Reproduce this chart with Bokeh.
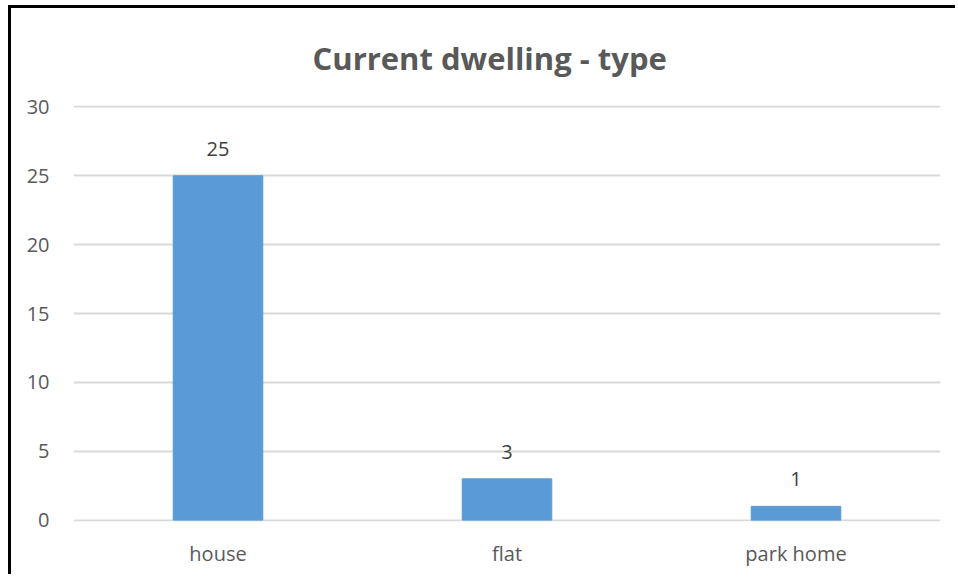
from bokeh.plotting import figure
from bokeh.models import ColumnDataSource, FixedTicker, LabelSet, Range1d
from bokeh.core.properties import value
from bokeh.embed import file_html
from bokeh.resources import INLINE

categories = ["house", "flat", "park home"]
counts = [25, 3, 1]
y_ticks = [0, 5, 10, 15, 20, 25, 30]

src = ColumnDataSource(dict(cat=categories, val=counts, lab=[str(v) for v in counts]))

# canvas starts at (11, 8) inside the page because of CSS margin + border
p = figure(x_range=categories, y_range=Range1d(-0.1, 30.1), width=947, height=569,
           output_backend="svg", toolbar_location=None,
           title="Current dwelling - type",
           min_border_left=62, min_border_right=18, min_border_top=96, min_border_bottom=56)
p.styles = {"margin-left": "8px", "margin-top": "5px",
            "border-left": "3px solid black", "border-top": "3px solid black"}
p.title.align = "left"
p.title.text_font = "Open Sans"
p.title.text_font_style = "bold"
p.title.text_font_size = "31px"
p.title.text_color = "#595959"
p.title.standoff = 53
p.title.offset = 239

p.vbar(x="cat", top="val", width=0.31, source=src, color="#5B9BD5")

p.add_layout(LabelSet(x="cat", y="val", text="lab", source=src, y_offset=20,
                      text_align="center", text_baseline="bottom",
                      text_font=value("Open Sans"), text_font_size=value("20px"),
                      text_color="#404040"))

p.outline_line_color = None
p.xgrid.grid_line_color = None
p.ygrid.grid_line_color = "#d9d9d9"
p.ygrid.grid_line_width = 2
p.yaxis.ticker = FixedTicker(ticks=y_ticks)
for ax in (p.xaxis[0], p.yaxis[0]):
    ax.axis_line_color = None
    ax.major_tick_line_color = None
    ax.minor_tick_line_color = None
    ax.major_label_text_font = "Open Sans"
    ax.major_label_text_font_size = "20px"
    ax.major_label_text_color = "#595959"
p.yaxis.major_label_standoff = 18
p.xaxis.major_label_standoff = 12

open("out.html", "w").write(file_html(p, INLINE))
